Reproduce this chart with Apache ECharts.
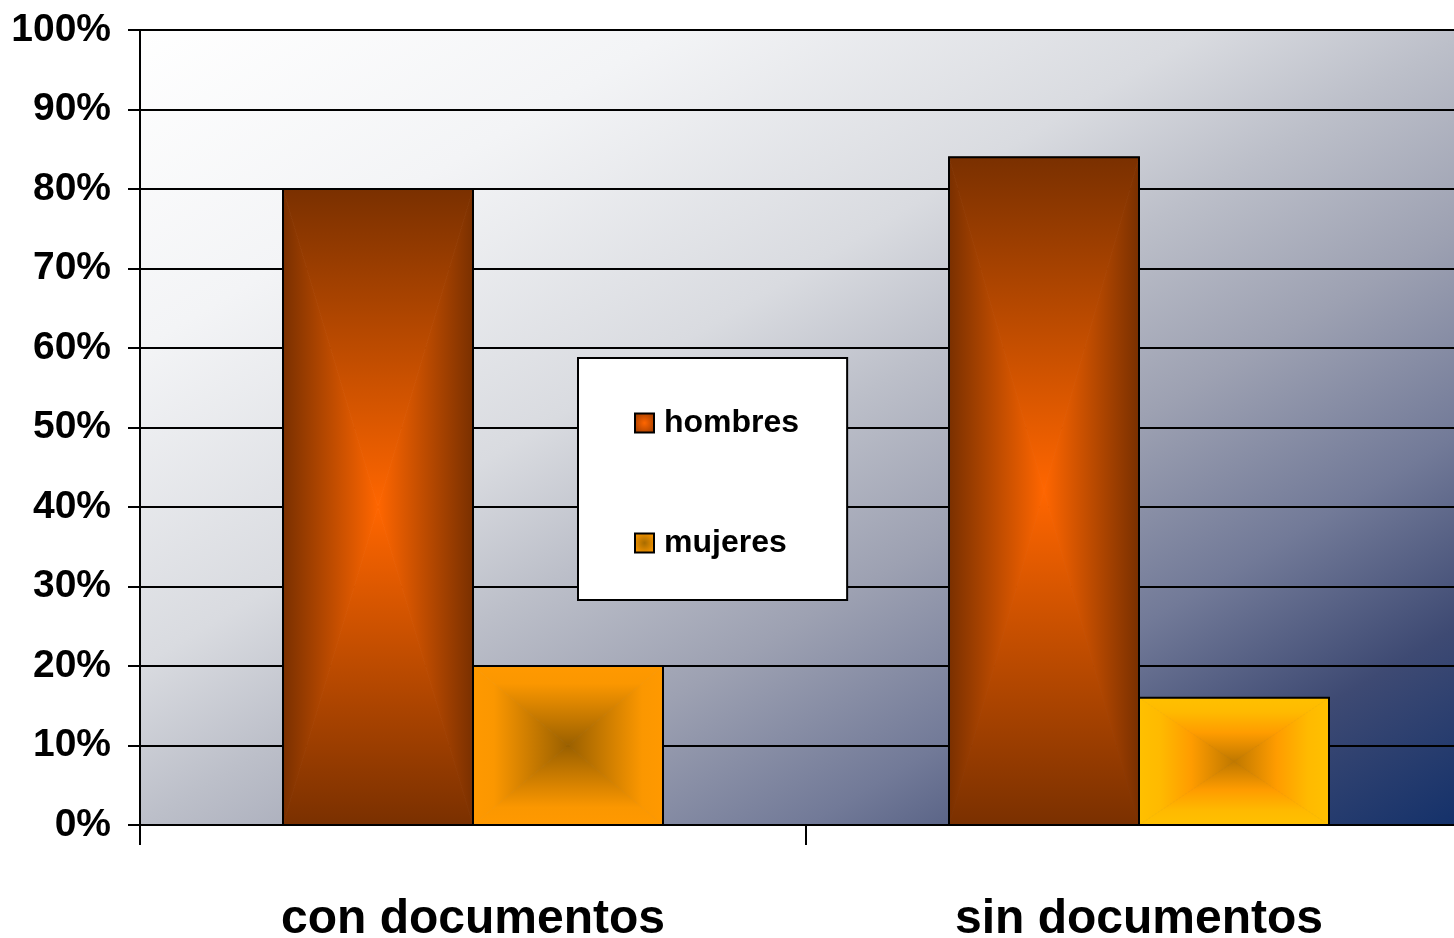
<!DOCTYPE html>
<html>
<head>
<meta charset="utf-8">
<script src="https://cdn.jsdelivr.net/npm/echarts@6/dist/echarts.min.js"></script>
<style>
html,body{margin:0;padding:0;background:#fff;}
#chart{width:1454px;height:938px;}
</style>
</head>
<body>
<div id="chart"></div>
<script>
// ---- data ----
const categories = ['con documentos', 'sin documentos'];
const seriesNames = ['hombres', 'mujeres'];
const hombres = [80, 84];
const mujeres = [20, 16];
const yTicks = { min: 0, max: 100, interval: 10 };

// ---- styles (kept separate from data) ----
// gradient stops: offset 0 = bar edge, offset 1 = bar centre
const styleStops = {
  hombres: [
    [[0, '#7a3000'], [1, '#ff6600']],
    [[0, '#7a3000'], [1, '#ff6600']]
  ],
  mujeres: [
    [[0, '#ff9900'], [0.22, '#fb9700'], [1, '#9a6000']],
    [[0, '#ffc000'], [0.22, '#ffba00'], [0.55, '#ff9c00'], [1, '#bf7800']]
  ]
};
const BAR_RATIO = 190 / 666;
const FONT = '"Liberation Sans", Arial, sans-serif';

function toStops(arr) {
  return arr.map(s => ({ offset: s[0], color: s[1] }));
}

function makeRenderItem(name, side) {
  return function (params, api) {
    const ci = api.value(0);
    const v = api.value(1);
    const base = api.coord([ci, 0]);
    const top = api.coord([ci, v]);
    const band = api.size([1, 0])[0];
    const w = band * BAR_RATIO;
    const x0 = side < 0 ? base[0] - w : base[0];
    const x1 = x0 + w;
    const y0 = top[1];
    const y1 = base[1];
    const cx = (x0 + x1) / 2;
    const cy = (y0 + y1) / 2;
    const stops = toStops(styleStops[name][params.dataIndex]);
    const lg = (xa, ya, xb, yb) => ({
      type: 'linear', x: xa, y: ya, x2: xb, y2: yb, global: true, colorStops: stops
    });
    const tri = (pts, g) => ({
      type: 'polygon',
      shape: { points: pts },
      style: { fill: g, stroke: g, lineWidth: 0.8 }
    });
    return {
      type: 'group',
      children: [
        tri([[x0, y0], [x1, y0], [cx, cy]], lg(cx, y0, cx, cy)),
        tri([[x0, y1], [x1, y1], [cx, cy]], lg(cx, y1, cx, cy)),
        tri([[x0, y0], [x0, y1], [cx, cy]], lg(x0, cy, cx, cy)),
        tri([[x1, y0], [x1, y1], [cx, cy]], lg(x1, cy, cx, cy)),
        {
          type: 'rect',
          shape: { x: x0, y: y0, width: w, height: y1 - y0 },
          style: { fill: null, stroke: '#000', lineWidth: 2 }
        }
      ]
    };
  };
}

// background diagonal gradient: isolines parallel to the plot's anti-diagonal
const GW = 1332, GH = 795;
const den = GW * GW + GH * GH;
const bgGradient = {
  type: 'linear', x: 0, y: 0,
  x2: 2 * GH * GH / den, y2: 2 * GW * GW / den,
  colorStops: [
    { offset: 0, color: '#ffffff' },
    { offset: 0.2, color: '#f3f4f6' },
    { offset: 0.4, color: '#d9dbe0' },
    { offset: 0.5, color: '#bcbfc9' },
    { offset: 0.62, color: '#9da1b2' },
    { offset: 0.75, color: '#727a98' },
    { offset: 0.87, color: '#3e4a73' },
    { offset: 1, color: '#12306a' }
  ]
};

const legendIcon = {
  hombres: { type: 'radial', x: 0.5, y: 0.5, r: 0.6,
    colorStops: [{ offset: 0, color: '#ff6600' }, { offset: 1, color: '#a03c00' }] },
  mujeres: { type: 'radial', x: 0.5, y: 0.5, r: 0.6,
    colorStops: [{ offset: 0, color: '#a86c00' }, { offset: 1, color: '#ff9900' }] }
};

const chart = echarts.init(document.getElementById('chart'), null, { renderer: 'canvas' });

const option = {
  animation: false,
  backgroundColor: '#ffffff',
  grid: {
    left: 140, top: 30, width: GW, height: GH,
    outerBoundsMode: 'none',
    containLabel: false,
    show: true, backgroundColor: bgGradient, borderWidth: 0
  },
  legend: {
    orient: 'vertical',
    left: 578, top: 358,
    backgroundColor: '#ffffff',
    borderColor: '#000000',
    borderWidth: 2,
    padding: [49, 48, 41, 56],
    itemWidth: 19, itemHeight: 19,
    itemGap: 88,
    selectedMode: false,
    textStyle: { fontFamily: FONT, fontWeight: 'bold', fontSize: 32, color: '#000', padding: [0, 0, 0, 5] },
    data: seriesNames.map(n => ({
      name: n, icon: 'rect',
      itemStyle: { color: legendIcon[n], borderColor: '#000', borderWidth: 2 }
    }))
  },
  xAxis: {
    type: 'category',
    data: categories,
    boundaryGap: true,
    axisLine: { show: true, lineStyle: { color: '#000', width: 2 } },
    axisTick: { show: true, length: 20, lineStyle: { color: '#000', width: 2 } },
    axisLabel: { fontFamily: FONT, fontWeight: 'bold', fontSize: 48, color: '#000', margin: 71 },
    splitLine: { show: false }
  },
  yAxis: {
    type: 'value',
    min: yTicks.min, max: yTicks.max, interval: yTicks.interval,
    axisLine: { show: true, lineStyle: { color: '#000', width: 2 } },
    axisTick: { show: true, length: 12, lineStyle: { color: '#000', width: 2 } },
    axisLabel: { fontFamily: FONT, fontWeight: 'bold', fontSize: 39, color: '#000', margin: 29,
      formatter: '{value}%', padding: [6, 0, 0, 0] },
    splitLine: { show: true, lineStyle: { color: '#000', width: 2 } }
  },
  series: [
    {
      name: seriesNames[0], type: 'custom',
      renderItem: makeRenderItem('hombres', -1),
      itemStyle: { color: '#ff6600' },
      encode: { x: 0, y: 1 },
      data: hombres.map((v, i) => [i, v]),
      z: 3
    },
    {
      name: seriesNames[1], type: 'custom',
      renderItem: makeRenderItem('mujeres', 1),
      itemStyle: { color: '#ff9900' },
      encode: { x: 0, y: 1 },
      data: mujeres.map((v, i) => [i, v]),
      z: 3
    }
  ]
};
chart.setOption(option);
</script>
</body>
</html>
